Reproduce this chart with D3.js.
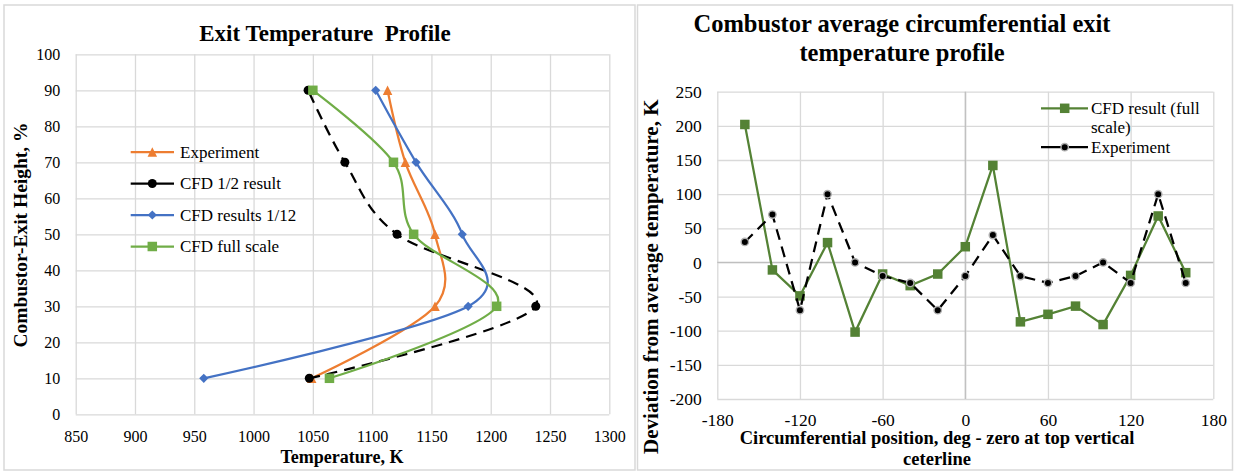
<!DOCTYPE html>
<html>
<head>
<meta charset="utf-8">
<script src="https://cdn.jsdelivr.net/npm/d3@7"></script>
<style>
  html, body { margin: 0; padding: 0; background: #fff; }
  svg { display: block; }
  text { font-family: "Liberation Serif", "Times New Roman", serif; fill: #000; }
</style>
</head>
<body>
<script>
// ---------- Left chart data ----------
const heightPct   = [10, 30, 50, 70, 90];
const experimentT = [1049, 1153, 1153, 1128, 1113];
const cfdHalfT    = [1047, 1238, 1121, 1077, 1046];
const cfd12T      = [958, 1181, 1176, 1137, 1103];
const cfdFullT    = [1064, 1205, 1135, 1118, 1050];
const leftXTicks  = [850, 900, 950, 1000, 1050, 1100, 1150, 1200, 1250, 1300];
const leftYTicks  = [0, 10, 20, 30, 40, 50, 60, 70, 80, 90, 100];
const leftSeriesNames = ["Experiment", "CFD 1/2 result", "CFD results 1/12", "CFD full scale"];

// ---------- Right chart data ----------
const angleDeg   = [-160, -140, -120, -100, -80, -60, -40, -20, 0, 20, 40, 60, 80, 100, 120, 140, 160];
const cfdFullDev = [202, -11, -49, 29, -102, -17, -34, -17, 23, 142, -87, -76, -64, -91, -19, 68, -15];
const expDev     = [30, 70, -70, 100, 0, -20, -30, -70, -20, 40, -20, -30, -20, 0, -30, 100, -30];
const rightXTicks = [-180, -120, -60, 0, 60, 120, 180];
const rightYTicks = [-200, -150, -100, -50, 0, 50, 100, 150, 200, 250];
const rightSeriesNames = ["CFD result (full scale)", "Experiment"];

const FONT = '"Liberation Serif", "Times New Roman", serif';
const fmt = d => String(d);  // plain hyphen-minus like the reference

const svg = d3.select("body").append("svg").attr("width", 1235).attr("height", 474);
svg.append("rect").attr("width", 1235).attr("height", 474).attr("fill", "#fff");

// panel borders
svg.append("rect").attr("x", 4).attr("y", 5).attr("width", 631).attr("height", 465)
  .attr("fill", "none").attr("stroke", "#d9d9d9").attr("stroke-width", 1.5);
svg.append("rect").attr("x", 637.5).attr("y", 5).attr("width", 595).attr("height", 465)
  .attr("fill", "none").attr("stroke", "#d9d9d9").attr("stroke-width", 1.5);

// marker helpers
function marker(g, type, cx, cy, color, opts = {}) {
  if (type === "triangle") {
    const w = 9.5, h = 9.5;
    g.append("path").attr("d", `M${cx},${cy - h / 2}L${cx + w / 2},${cy + h / 2}L${cx - w / 2},${cy + h / 2}Z`).attr("fill", color);
  } else if (type === "circle") {
    const c = g.append("circle").attr("cx", cx).attr("cy", cy).attr("r", opts.r || 4.5).attr("fill", color);
    if (opts.halo) c.attr("stroke", opts.halo).attr("stroke-width", 1.4);
  } else if (type === "diamond") {
    const s = 4.6;
    g.append("path").attr("d", `M${cx},${cy - s}L${cx + s},${cy}L${cx},${cy + s}L${cx - s},${cy}Z`).attr("fill", color);
  } else if (type === "square") {
    const s = opts.s || 9.5;
    g.append("rect").attr("x", cx - s / 2).attr("y", cy - s / 2).attr("width", s).attr("height", s).attr("fill", color);
  }
}

function styleAxis(a, size) {
  a.attr("font-family", FONT);
  a.select(".domain").remove();
  a.selectAll(".tick line").attr("stroke", "#d9d9d9").attr("stroke-width", 1.3);
  a.selectAll(".tick text").style("font-size", size).attr("fill", "#000").style("font-family", FONT);
}

// ================= LEFT CHART =================
{
  const x = d3.scaleLinear().domain([850, 1300]).range([75.7, 609.3]);
  const y = d3.scaleLinear().domain([0, 100]).range([414.3, 54.3]);
  const g = svg.append("g");

  const ya = g.append("g").attr("transform", `translate(${x(850)},0)`)
    .call(d3.axisLeft(y).tickValues(leftYTicks).tickSize(-(x(1300) - x(850))).tickPadding(15.5).tickFormat(fmt));
  const xa = g.append("g").attr("transform", `translate(0,${y(0)})`)
    .call(d3.axisBottom(x).tickValues(leftXTicks).tickSize(-(y(0) - y(100))).tickPadding(16).tickFormat(fmt));
  styleAxis(ya, "16px");
  styleAxis(xa, "16px");

  const series = [
    { name: leftSeriesNames[0], vals: experimentT, color: "#ED7D31", m: "triangle" },
    { name: leftSeriesNames[1], vals: cfdHalfT, color: "#000000", m: "circle", dash: "11,7" },
    { name: leftSeriesNames[2], vals: cfd12T, color: "#4472C4", m: "diamond" },
    { name: leftSeriesNames[3], vals: cfdFullT, color: "#70AD47", m: "square" }
  ];
  const line = d3.line().x(d => x(d[0])).y(d => y(d[1])).curve(d3.curveCatmullRom.alpha(0));
  series.forEach(s => {
    const pts = s.vals.map((v, i) => [v, heightPct[i]]);
    g.append("path").attr("d", line(pts)).attr("fill", "none").attr("stroke", s.color)
      .attr("stroke-width", 2.25).attr("stroke-dasharray", s.dash || null).attr("stroke-linecap", "butt");
    pts.forEach(p => marker(g, s.m, x(p[0]), y(p[1]), s.color));
  });

  // legend
  const legY = [152, 183.5, 215, 246.5];
  series.forEach((s, i) => {
    g.append("line").attr("x1", 130.7).attr("x2", 174).attr("y1", legY[i]).attr("y2", legY[i])
      .attr("stroke", s.color).attr("stroke-width", 2.25);
    marker(g, s.m, 152.3, legY[i], s.color);
    g.append("text").attr("x", 180).attr("y", legY[i]).attr("dy", "0.35em")
      .style("font-size", "17px").text(s.name);
  });

  // titles
  g.append("text").attr("x", 325).attr("y", 40.7).attr("text-anchor", "middle")
    .style("font-size", "23px").style("font-weight", "bold").style("white-space", "pre")
    .text("Exit Temperature  Profile");
  g.append("text").attr("x", 342).attr("y", 463).attr("text-anchor", "middle")
    .style("font-size", "18px").style("font-weight", "bold").text("Temperature, K");
  g.append("text").attr("transform", "translate(27,235) rotate(-90)").attr("text-anchor", "middle")
    .style("font-size", "19.5px").style("font-weight", "bold").text("Combustor-Exit Height, %");
}

// ================= RIGHT CHART =================
{
  const x = d3.scaleLinear().domain([-180, 180]).range([717.3, 1213.3]);
  const y = d3.scaleLinear().domain([-200, 250]).range([399, 91.7]);
  const g = svg.append("g");

  const ya = g.append("g").attr("transform", `translate(${x(-180)},0)`)
    .call(d3.axisLeft(y).tickValues(rightYTicks).tickSize(-(x(180) - x(-180))).tickPadding(15.6).tickFormat(fmt));
  const xa = g.append("g").attr("transform", `translate(0,${y(-200)})`)
    .call(d3.axisBottom(x).tickValues(rightXTicks).tickSize(-(y(-200) - y(250))).tickPadding(14.5).tickFormat(fmt));
  styleAxis(ya, "17.5px");
  styleAxis(xa, "17.5px");

  // zero axis lines
  g.append("line").attr("x1", x(0)).attr("x2", x(0)).attr("y1", y(250)).attr("y2", y(-200))
    .attr("stroke", "#bfbfbf").attr("stroke-width", 1.3);
  g.append("line").attr("x1", x(-180)).attr("x2", x(180)).attr("y1", y(0)).attr("y2", y(0))
    .attr("stroke", "#bfbfbf").attr("stroke-width", 1.3);

  const line = d3.line().x(d => x(d[0])).y(d => y(d[1]));
  const green = "#548235";
  const gPts = cfdFullDev.map((v, i) => [angleDeg[i], v]);
  const ePts = expDev.map((v, i) => [angleDeg[i], v]);
  g.append("path").attr("d", line(gPts)).attr("fill", "none").attr("stroke", green).attr("stroke-width", 2.25);
  gPts.forEach(p => marker(g, "square", x(p[0]), y(p[1]), green, { s: 9.5 }));
  g.append("path").attr("d", line(ePts)).attr("fill", "none").attr("stroke", "#000")
    .attr("stroke-width", 2.25).attr("stroke-dasharray", "11,7");
  ePts.forEach(p => marker(g, "circle", x(p[0]), y(p[1]), "#000", { r: 3.7, halo: "#b0b0b0" }));

  // legend
  g.append("line").attr("x1", 1041).attr("x2", 1088).attr("y1", 108.3).attr("y2", 108.3)
    .attr("stroke", green).attr("stroke-width", 2.25);
  marker(g, "square", 1064.7, 108.3, green, { s: 9.5 });
  const t1 = g.append("text").attr("x", 1091).attr("y", 108).attr("dy", "0.35em").style("font-size", "17px");
  t1.append("tspan").text("CFD result (full");
  t1.append("tspan").attr("x", 1091).attr("dy", "19px").text("scale)");
  g.append("line").attr("x1", 1041).attr("x2", 1088).attr("y1", 147.2).attr("y2", 147.2)
    .attr("stroke", "#000").attr("stroke-width", 2.25);
  marker(g, "circle", 1064.7, 147.2, "#000", { r: 3.7, halo: "#b0b0b0" });
  g.append("text").attr("x", 1091).attr("y", 147.2).attr("dy", "0.35em").style("font-size", "17px").text(rightSeriesNames[1]);

  // titles
  g.append("text").attr("x", 902).attr("y", 32.3).attr("text-anchor", "middle")
    .style("font-size", "24.5px").style("font-weight", "bold").text("Combustor average circumferential exit");
  g.append("text").attr("x", 902).attr("y", 61).attr("text-anchor", "middle")
    .style("font-size", "24.5px").style("font-weight", "bold").text("temperature profile");
  g.append("text").attr("x", 937).attr("y", 444).attr("text-anchor", "middle")
    .style("font-size", "18.5px").style("font-weight", "bold").text("Circumferential position, deg - zero at top vertical");
  g.append("text").attr("x", 937).attr("y", 464.5).attr("text-anchor", "middle")
    .style("font-size", "18.5px").style("font-weight", "bold").text("ceterline");
  g.append("text").attr("transform", "translate(658,276.7) rotate(-90)").attr("text-anchor", "middle")
    .style("font-size", "21px").style("font-weight", "bold").text("Deviation from average temperature, K");
}
</script>
</body>
</html>
